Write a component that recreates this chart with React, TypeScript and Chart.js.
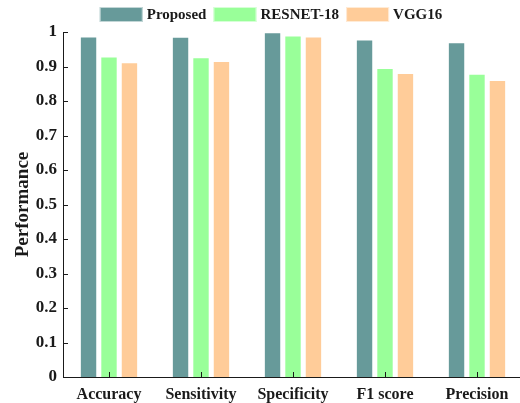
import React, { useEffect, useRef } from "react";
import { Chart, registerables } from "chart.js";

Chart.register(...registerables);

const categories = ["Accuracy", "Sensitivity", "Specificity", "F1 score", "Precision"];
const seriesNames = ["Proposed", "RESNET-18", "VGG16"];
const proposed = [0.987, 0.986, 0.999, 0.978, 0.970];
const resnet18 = [0.929, 0.927, 0.990, 0.896, 0.879];
const vgg16 = [0.912, 0.916, 0.987, 0.881, 0.861];
const colors = ["#679a9a", "#99ff99", "#ffcc99"];
const yTitle = "Performance";

const FONT = "'Liberation Serif', 'Times New Roman', serif";
const INK = "#1a1a1a";

const innerTicks = {
  id: "innerTicks",
  afterDraw(chart: any) {
    const { ctx, chartArea, scales } = chart;
    const x = scales.x;
    const y = scales.y;
    ctx.save();
    ctx.strokeStyle = INK;
    ctx.lineWidth = 1;
    ctx.beginPath();
    y.ticks.forEach((t: any) => {
      const py = Math.round(y.getPixelForValue(t.value)) + 0.5;
      ctx.moveTo(chartArea.left, py);
      ctx.lineTo(chartArea.left + 5, py);
    });
    categories.forEach((_, i) => {
      const px = Math.round(x.getPixelForValue(i)) + 0.5;
      ctx.moveTo(px, chartArea.bottom);
      ctx.lineTo(px, chartArea.bottom - 5);
    });
    ctx.stroke();

    // legend
    ctx.font = `bold 15px ${FONT}`;
    ctx.textBaseline = "middle";
    ctx.textAlign = "left";
    const boxW = 43;
    const boxH = 15;
    const gapBoxText = 4;
    const gapItems = 7;
    const ds = chart.data.datasets;
    let total = 0;
    ds.forEach((d: any, i: number) => {
      total += boxW + gapBoxText + ctx.measureText(d.label).width;
      if (i < ds.length - 1) total += gapItems;
    });
    let cx = 271 - total / 2;
    const cy = 14.5;
    ds.forEach((d: any) => {
      ctx.fillStyle = d.backgroundColor;
      ctx.fillRect(cx, cy - boxH / 2, boxW, boxH);
      ctx.strokeStyle = "rgba(255,255,255,0.6)";
      ctx.strokeRect(cx + 0.5, cy - boxH / 2 + 0.5, boxW - 1, boxH - 1);
      cx += boxW + gapBoxText;
      ctx.fillStyle = INK;
      ctx.fillText(d.label, cx, cy + 1);
      cx += ctx.measureText(d.label).width + gapItems;
    });
    ctx.restore();
  },
};

export default function App() {
  const ref = useRef<HTMLCanvasElement>(null);
  useEffect(() => {
    document.body.style.margin = "0";
    document.body.style.overflow = "hidden";
    const data = [proposed, resnet18, vgg16];
    const chart = new Chart(ref.current as HTMLCanvasElement, {
      type: "bar",
      data: {
        labels: categories,
        datasets: seriesNames.map((name, i) => ({
          label: name,
          data: data[i],
          backgroundColor: colors[i],
          borderColor: "rgba(255,255,255,0.5)",
          borderWidth: 1,
          categoryPercentage: 0.667,
          barPercentage: 0.85,
        })),
      },
      options: {
        animation: false,
        responsive: false,
        maintainAspectRatio: false,
        layout: { padding: { top: 32, right: 7, left: 0, bottom: 0 } },
        plugins: { legend: { display: false }, tooltip: { enabled: false } },
        scales: {
          x: {
            grid: { display: false, drawTicks: false },
            border: { display: true, color: INK, width: 1 },
            ticks: {
              color: INK,
              padding: 8,
              font: { family: FONT, size: 16, weight: "bold" },
              maxRotation: 0,
            },
            afterFit: (s: any) => {
              s.height = 26;
            },
          },
          y: {
            min: 0,
            max: 1,
            grid: { display: false, drawTicks: false },
            border: { display: true, color: INK, width: 1 },
            ticks: {
              stepSize: 0.1,
              color: INK,
              padding: 6,
              font: { family: FONT, size: 17, weight: "bold" },
              callback: (v: any) => String(Number(Number(v).toFixed(1))),
            },
            title: {
              display: true,
              text: yTitle,
              color: INK,
              font: { family: FONT, size: 19, weight: "bold" },
              padding: { top: 12, bottom: 0 },
            },
            afterFit: (s: any) => {
              s.width = 63;
            },
          },
        },
      },
      plugins: [innerTicks],
    });
    return () => chart.destroy();
  }, []);
  return (
    <div style={{ position: "fixed", left: 0, top: 0, width: 520, height: 403, overflow: "hidden", background: "#fff" }}>
      <canvas ref={ref} width={530} height={403} style={{ display: "block" }} />
    </div>
  );
}
